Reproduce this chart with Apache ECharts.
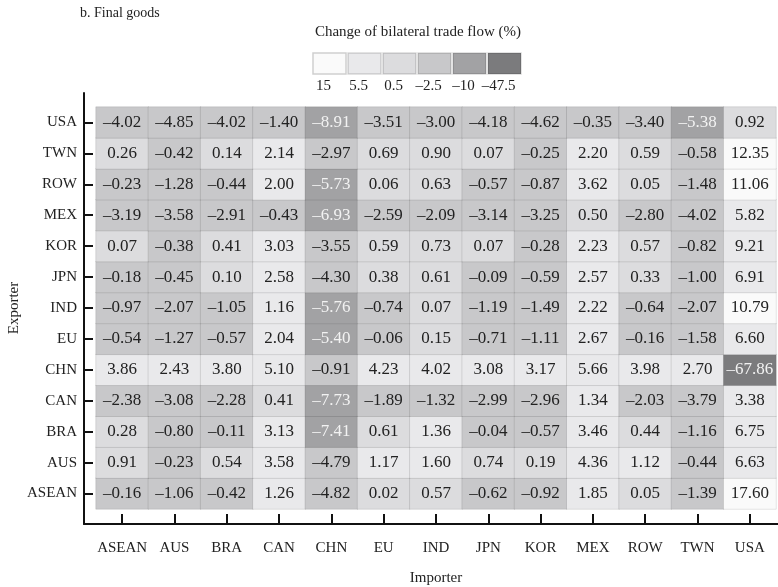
<!DOCTYPE html>
<html><head><meta charset="utf-8">
<script src="https://cdn.jsdelivr.net/npm/echarts@6/dist/echarts.min.js"></script>
<style>html,body{margin:0;padding:0;background:#fff}#c{width:778px;height:587px}</style>
</head><body><div id="c"></div>
<script>
// Importers (x axis, left to right)
const importers = ['ASEAN','AUS','BRA','CAN','CHN','EU','IND','JPN','KOR','MEX','ROW','TWN','USA'];
// Exporters (y axis, bottom to top)
const exporters = ['ASEAN','AUS','BRA','CAN','CHN','EU','IND','JPN','KOR','MEX','ROW','TWN','USA'];

// Rows: change of bilateral trade flow (%) by exporter, columns in importer order
const rowASEAN = [-0.16,-1.06,-0.42,1.26,-4.82,0.02,0.57,-0.62,-0.92,1.85,0.05,-1.39,17.60];
const rowAUS   = [0.91,-0.23,0.54,3.58,-4.79,1.17,1.60,0.74,0.19,4.36,1.12,-0.44,6.63];
const rowBRA   = [0.28,-0.80,-0.11,3.13,-7.41,0.61,1.36,-0.04,-0.57,3.46,0.44,-1.16,6.75];
const rowCAN   = [-2.38,-3.08,-2.28,0.41,-7.73,-1.89,-1.32,-2.99,-2.96,1.34,-2.03,-3.79,3.38];
const rowCHN   = [3.86,2.43,3.80,5.10,-0.91,4.23,4.02,3.08,3.17,5.66,3.98,2.70,-67.86];
const rowEU    = [-0.54,-1.27,-0.57,2.04,-5.40,-0.06,0.15,-0.71,-1.11,2.67,-0.16,-1.58,6.60];
const rowIND   = [-0.97,-2.07,-1.05,1.16,-5.76,-0.74,0.07,-1.19,-1.49,2.22,-0.64,-2.07,10.79];
const rowJPN   = [-0.18,-0.45,0.10,2.58,-4.30,0.38,0.61,-0.09,-0.59,2.57,0.33,-1.00,6.91];
const rowKOR   = [0.07,-0.38,0.41,3.03,-3.55,0.59,0.73,0.07,-0.28,2.23,0.57,-0.82,9.21];
const rowMEX   = [-3.19,-3.58,-2.91,-0.43,-6.93,-2.59,-2.09,-3.14,-3.25,0.50,-2.80,-4.02,5.82];
const rowROW   = [-0.23,-1.28,-0.44,2.00,-5.73,0.06,0.63,-0.57,-0.87,3.62,0.05,-1.48,11.06];
const rowTWN   = [0.26,-0.42,0.14,2.14,-2.97,0.69,0.90,0.07,-0.25,2.20,0.59,-0.58,12.35];
const rowUSA   = [-4.02,-4.85,-4.02,-1.40,-8.91,-3.51,-3.00,-4.18,-4.62,-0.35,-3.40,-5.38,0.92];

// Colour bins (light to dark) and legend tick labels
const binLow  = [10, 1, 0, -5, -15, -80];
const binHigh = [20, 10, 1, 0, -5, -15];
const binColors = ['#fafafa','#e9e9eb','#dcdcde','#c8c8ca','#a2a2a4','#7b7b7d'];
const legendLabels = ['15','5.5','0.5','\u20132.5','\u201310','\u201347.5'];

const rows = [rowASEAN,rowAUS,rowBRA,rowCAN,rowCHN,rowEU,rowIND,rowJPN,rowKOR,rowMEX,rowROW,rowTWN,rowUSA];
const data = [];
rows.forEach((r, yi) => r.forEach((v, xi) => data.push([xi, yi, v])));

const FONT = '"Liberation Serif", "Times New Roman", serif';
const fmt = v => (v < 0 ? '\u2013' : '') + Math.abs(v).toFixed(2);

const pieces = binColors.map((c, i) => {
  const p = { color: c };
  if (i > 0) p.lt = binHigh[i];
  if (i < binColors.length - 1) p.gte = binLow[i];
  return p;
});

// Legend graphics
const lgLeft = 312, lgTop = 52, lgW = 35, lgH = 23;
const graphics = [
  { type: 'text', left: 80, top: 6, style: { text: 'b. Final goods', font: '14px ' + FONT, fill: '#222' } },
  { type: 'text', x: 418, y: 32, style: { text: 'Change of bilateral trade flow (%)', font: '15px ' + FONT, fill: '#222', textAlign: 'center', textVerticalAlign: 'middle' } }
];
binColors.forEach((c, i) => {
  graphics.push({ type: 'rect', shape: { x: lgLeft + i * lgW + 1, y: lgTop + 1, width: lgW - 2, height: lgH - 2 },
    style: { fill: c, stroke: i === 0 ? '#cfcfcf' : 'rgba(0,0,0,0.15)', lineWidth: 1.5 } });
  graphics.push({ type: 'text', x: lgLeft + i * lgW + lgW / 2 - 6, y: lgTop + lgH + 11,
    style: { text: legendLabels[i], font: '15px ' + FONT, fill: '#222', textAlign: 'center', textVerticalAlign: 'middle' } });
});

const chart = echarts.init(document.getElementById('c'), null, { renderer: 'canvas' });
chart.setOption({
  animation: false,
  backgroundColor: '#fff',
  textStyle: { fontFamily: FONT },
  graphic: graphics,
  grid: [
    { left: 84, top: 93, width: 694, height: 431, show: false, containLabel: false, outerBoundsMode: 'none' },
    { left: 96, top: 107, width: 680, height: 402, show: false, containLabel: false, outerBoundsMode: 'none' }
  ],
  xAxis: [
    { gridIndex: 0, type: 'value', min: 0, max: 1, axisLine: { show: true, lineStyle: { color: '#111', width: 2 } },
      axisTick: { show: false }, axisLabel: { show: false }, splitLine: { show: false } },
    { gridIndex: 1, type: 'category', data: importers, offset: 15, position: 'bottom',
      axisLine: { show: false }, axisTick: { show: true, inside: true, length: 10, alignWithLabel: true, lineStyle: { color: '#111', width: 2 } },
      axisLabel: { color: '#222', fontSize: 15, fontFamily: FONT, margin: 17, interval: 0 },
      name: 'Importer', nameLocation: 'middle', nameGap: 47, nameMoveOverlap: false, nameTextStyle: { color: '#222', fontSize: 15, fontFamily: FONT },
      splitLine: { show: false } }
  ],
  yAxis: [
    { gridIndex: 0, type: 'value', min: 0, max: 1, axisLine: { show: true, lineStyle: { color: '#111', width: 2 } },
      axisTick: { show: false }, axisLabel: { show: false }, splitLine: { show: false } },
    { gridIndex: 1, type: 'category', data: exporters, offset: 12, position: 'left',
      axisLine: { show: false }, axisTick: { show: true, inside: true, length: 9, alignWithLabel: true, lineStyle: { color: '#111', width: 2 } },
      axisLabel: { color: '#222', fontSize: 15, fontFamily: FONT, margin: 7, interval: 0 },
      name: 'Exporter', nameLocation: 'middle', nameGap: 62, nameRotate: 90, nameMoveOverlap: false, nameTextStyle: { color: '#222', fontSize: 15, fontFamily: FONT },
      splitLine: { show: false } }
  ],
  visualMap: { type: 'piecewise', show: false, dimension: 2, seriesIndex: 0, pieces: pieces },
  series: [{
    type: 'heatmap', xAxisIndex: 1, yAxisIndex: 1, data: data,
    itemStyle: { borderColor: 'rgba(0,0,0,0.1)', borderWidth: 1 },
    label: {
      show: true,
      formatter: p => (p.value[2] < -5 ? '{w|' : '{d|') + fmt(p.value[2]) + '}',
      rich: {
        w: { color: '#f2f2f2', fontSize: 17, fontFamily: FONT },
        d: { color: '#222', fontSize: 17, fontFamily: FONT }
      }
    },
    emphasis: { disabled: true }
  }]
});
</script></body></html>
